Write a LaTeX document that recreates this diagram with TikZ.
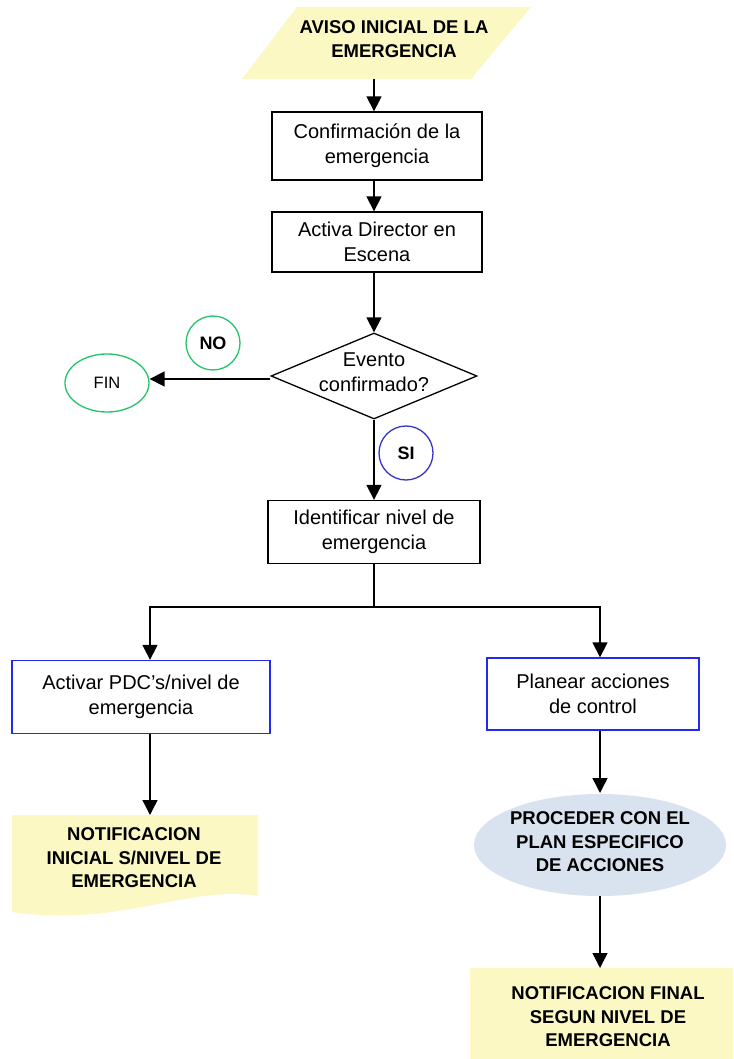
\documentclass[tikz,border=0pt]{standalone}
\usepackage{fontspec}
\setmainfont{Liberation Sans}
\usetikzlibrary{shapes.geometric,arrows.meta}
\definecolor{noteyellow}{HTML}{FBF8C4}
\definecolor{cloudblue}{HTML}{D8E3EF}
\definecolor{okgreen}{HTML}{22C46A}
\definecolor{siblue}{HTML}{3434C8}
\definecolor{boxblue}{HTML}{1F2BF0}
\tikzset{
  x=1pt, y=-1pt,
  every node/.style={font=\fontsize{20}{25}\selectfont, align=center, inner sep=0pt},
  flow/.style={draw=black, line width=1.4pt, -{Triangle[length=15pt,width=15pt]}},
  link/.style={draw=black, line width=1.4pt},
  procbox/.style={draw=black, line width=1.3pt, minimum width=210pt, minimum height=64pt},
  bluebox/.style={draw=boxblue, line width=1.3pt},
  badge/.style={circle, line width=1.3pt, minimum size=54pt, font=\fontsize{18}{20}\bfseries\selectfont},
  bold/.style={font=\fontsize{18.5}{23.5}\bfseries\selectfont},
}
\begin{document}
\begin{tikzpicture}
\useasboundingbox (0,0) rectangle (733,1059);
\fill[white] (0,0) rectangle (733,1059);

% start: parallelogram
\fill[noteyellow] (297,7) -- (531,7) -- (471,79) -- (242,79) -- cycle;
\node[bold] (aviso) at (394,39) {AVISO INICIAL DE LA\\EMERGENCIA};
\coordinate (avisoB) at (374,79);

% process boxes
\node[procbox, minimum height=68pt] (conf) at (377,146) {Confirmación de la\\emergencia};
\node[procbox, minimum height=60pt] (activa) at (377,242) {Activa Director en\\Escena};

% decision
\node[diamond, draw=black, line width=1.3pt, minimum width=206pt, minimum height=86pt, aspect=2.4] (evento) at (374,376) {};
\node at (374,372) {Evento\\confirmado?};

\node[ellipse, draw=okgreen, minimum width=84pt, minimum height=58pt, font=\fontsize{16.5}{18}\selectfont, line width=1.3pt] (fin) at (107,383) {FIN};
\node[badge, draw=okgreen] (no) at (213,343) {NO};
\node[badge, draw=siblue] (si) at (406,453) {SI};

\node[procbox, minimum width=212pt, minimum height=63pt] (ident) at (374,532) {Identificar nivel de\\emergencia};

\node[bluebox, minimum width=258pt, minimum height=73pt] (pdc) at (141,697) {Activar PDC's/nivel de\\emergencia};
\node[bluebox, minimum width=212pt, minimum height=72pt] (plan) at (593,694) {Planear acciones\\de control};

% notification shapes (wavy bottom)
\fill[noteyellow] (12,815) -- (258,815) -- (258,896) .. controls (190,884) and (120,928) .. (12,912) -- cycle;
\node[bold] (notini) at (134,858) {NOTIFICACION\\INICIAL S/NIVEL DE\\EMERGENCIA};

\node[ellipse, fill=cloudblue, minimum width=252pt, minimum height=102pt] (proc) at (600,845) {};
\node[bold] at (600,842) {PROCEDER CON EL\\PLAN ESPECIFICO\\DE ACCIONES};

\fill[noteyellow] (470,968) -- (733,968) -- (733,1059) -- (470,1059) -- cycle;
\node[bold] (notfin) at (608,1017) {NOTIFICACION FINAL\\SEGUN NIVEL DE\\EMERGENCIA};
\coordinate (notfinT) at (600,968);
\coordinate (notiniT) at (150,815);

% connectors
\draw[flow] (avisoB) -- (conf.north -| avisoB);
\draw[flow] (conf.south -| avisoB) -- (activa.north -| avisoB);
\draw[flow] (activa.south -| avisoB) -- (evento.north);
\draw[flow] (evento.west) ++(0,3) -- (fin.east |- 0,379);
\draw[flow] (evento.south) -- (ident.north -| evento.south);
\coordinate (split) at (ident.south |- 0,607);
\draw[link] (ident.south) -- (split);
\draw[flow] (split) -| (pdc.north -| notiniT);
\draw[flow] (split) -| (plan.north -| notfinT);
\draw[flow] (pdc.south -| notiniT) -- (notiniT);
\draw[flow] (plan.south -| notfinT) -- (proc.south |- 0,793);
\draw[flow] (proc.south -| notfinT) -- (notfinT);
\end{tikzpicture}
\end{document}
